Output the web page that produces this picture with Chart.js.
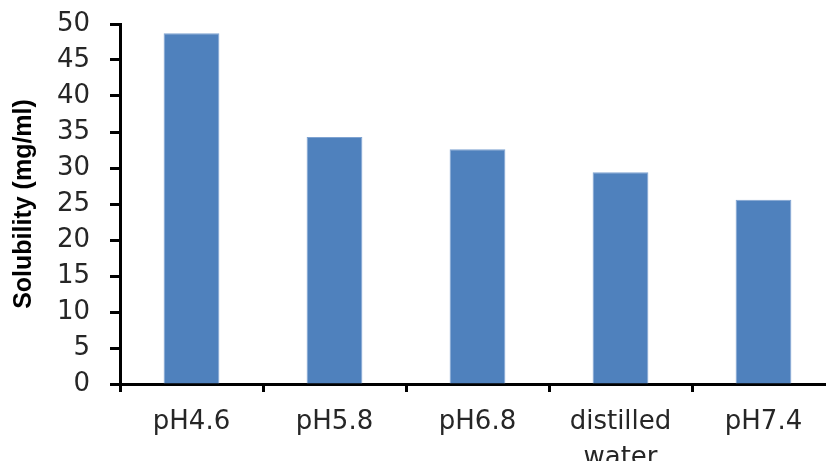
<!DOCTYPE html>
<html>
<head>
<meta charset="utf-8">
<script src="https://cdn.jsdelivr.net/npm/chart.js@4.4.1/dist/chart.umd.min.js"></script>
<style>
  html, body { margin: 0; padding: 0; background: #ffffff; overflow: hidden; }
  #wrap { position: relative; width: 835px; height: 461px; }
</style>
</head>
<body>
<div id="wrap"><canvas id="chart"></canvas></div>
<script>
// Solubility of the drug in buffer media and water
const categories = ['pH4.6', 'pH5.8', 'pH6.8', ['distilled', 'water'], 'pH7.4'];
const solubility = [48.7, 34.3, 32.6, 29.4, 25.6];
const yTicks = [0, 5, 10, 15, 20, 25, 30, 35, 40, 45, 50];

const axisColor = '#000000';
const textColor = '#262626';

new Chart(document.getElementById('chart'), {
  type: 'bar',
  data: {
    labels: categories,
    datasets: [{
      label: 'Solubility (mg/ml)',
      data: solubility,
      backgroundColor: '#4F81BD',
      borderColor: '#7fa3d1',
      borderWidth: 1,
      barPercentage: 0.39,
      categoryPercentage: 1.0
    }]
  },
  options: {
    responsive: true,
    maintainAspectRatio: false,
    animation: false,
    layout: { padding: { top: 24, left: 0, right: 0, bottom: 0 } },
    plugins: {
      legend: { display: false },
      tooltip: { enabled: false }
    },
    scales: {
      x: {
        offset: true,
        border: { display: true, color: axisColor, width: 3 },
        grid: {
          display: true,
          offset: true,
          drawOnChartArea: false,
          drawTicks: true,
          tickLength: 8,
          tickWidth: 3,
          tickColor: axisColor
        },
        ticks: {
          color: textColor,
          padding: 12,
          maxRotation: 0,
          autoSkip: false,
          font: { family: 'DejaVu Sans', size: 26, lineHeight: 1.4 }
        },
        afterFit: (scale) => { scale.height = 77; }
      },
      y: {
        min: 0,
        max: 50,
        afterBuildTicks: (scale) => { scale.ticks = yTicks.map(v => ({ value: v })); },
        border: { display: true, color: axisColor, width: 3 },
        grid: {
          display: true,
          drawOnChartArea: false,
          drawTicks: true,
          tickLength: 10,
          tickWidth: 3,
          tickColor: axisColor
        },
        ticks: {
          color: textColor,
          padding: 20,
          font: { family: 'DejaVu Sans', size: 26 }
        },
        title: {
          display: true,
          text: 'Solubility (mg/ml)',
          color: '#000000',
          padding: { top: 9, bottom: 0 },
          font: { family: 'Liberation Sans', size: 25, weight: 'bold' }
        },
        afterFit: (scale) => {
          scale.width = 120;
          scale.paddingTop = 0;
          scale.paddingBottom = 0;
        }
      }
    }
  }
});
</script>
</body>
</html>
